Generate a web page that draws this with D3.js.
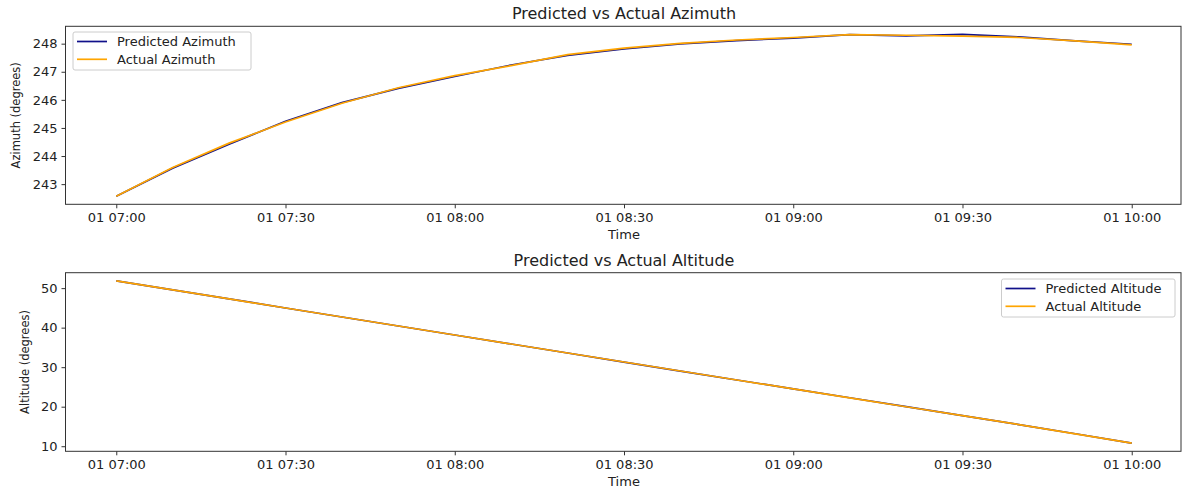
<!DOCTYPE html>
<html><head><meta charset="utf-8">
<script src="https://cdn.jsdelivr.net/npm/d3@7"></script>
<style>body{margin:0;background:#fff}svg{display:block}text{font-family:"DejaVu Sans",sans-serif;fill:#222}</style>
</head><body><svg id="c" width="1182" height="488"></svg>
<script>
const times = ["07:00","07:10","07:20","07:30","07:40","07:50","08:00","08:10","08:20","08:30","08:40","08:50","09:00","09:10","09:20","09:30","09:40","09:50","10:00"];
const predictedAzimuth = [242.57,243.57,244.42,245.24,245.90,246.41,246.83,247.24,247.58,247.81,247.99,248.11,248.20,248.32,248.28,248.33,248.24,248.10,247.98];
const actualAzimuth    = [242.57,243.59,244.46,245.21,245.88,246.43,246.86,247.22,247.61,247.84,248.01,248.13,248.22,248.32,248.30,248.27,248.22,248.10,247.96];
const predictedAltitude = [51.85,49.55,47.27,44.98,42.70,40.42,38.15,35.87,33.58,31.30,29.02,26.76,24.52,22.26,20.00,17.74,15.48,13.15,10.78];
const actualAltitude    = [51.85,49.56,47.26,44.97,42.69,40.41,38.14,35.86,33.58,31.31,29.03,26.76,24.51,22.25,19.99,17.73,15.47,13.14,10.77];
const azTicks = [243,244,245,246,247,248];
const altTicks = [10,20,30,40,50];
const xTickLabels = ["07:00","07:30","08:00","08:30","09:00","09:30","10:00"];

const parse = t => { const [h,m]=t.split(":").map(Number); return new Date(2024,0,1,h,m); };
const dates = times.map(parse);
const svg = d3.select("#c");
const PRED = "#10108a", ACT = "#ffa500";
const t0 = dates[0], t1 = dates[dates.length-1];
const span = t1 - t0;
const x = d3.scaleTime().domain([new Date(+t0 - span*0.05), new Date(+t1 + span*0.05)]).range([65.5, 1182.5]);

function panel(cfg){
  const {top,bottom,pred,act,ticks,title,ylabel,ylabelX,legend,names} = cfg;
  const all = pred.concat(act);
  const lo = d3.min(all), hi = d3.max(all), m = (hi-lo)*0.05;
  const y = d3.scaleLinear().domain([lo-m, hi+m]).range([bottom, top]);
  const g = svg.append("g");
  const line = arr => d3.line().x((d,i)=>x(dates[i])).y(d=>y(d))(arr);
  g.append("path").attr("d", line(pred)).attr("fill","none").attr("stroke",PRED).attr("stroke-width",1.7);
  g.append("path").attr("d", line(act)).attr("fill","none").attr("stroke",ACT).attr("stroke-width",1.7);
  g.append("rect").attr("x",65.5).attr("y",top).attr("width",1181-65.5).attr("height",bottom-top)
    .attr("fill","none").attr("stroke","#333").attr("stroke-width",1);
  const xa = g.append("g").attr("transform",`translate(0,${bottom})`)
    .call(d3.axisBottom(x).tickValues(xTickLabels.map(parse)).tickSize(4).tickPadding(4).tickFormat(d=>"01 "+d3.timeFormat("%H:%M")(d)));
  xa.select(".domain").remove();
  xa.selectAll("line").attr("stroke","#333");
  xa.selectAll("text").attr("font-size",13).style("font-family","DejaVu Sans");
  const ya = g.append("g").attr("transform","translate(65.5,0)")
    .call(d3.axisLeft(y).tickValues(ticks).tickSize(4).tickPadding(4).tickFormat(d3.format("d")));
  ya.select(".domain").remove();
  ya.selectAll("line").attr("stroke","#333");
  ya.selectAll("text").attr("font-size",13).style("font-family","DejaVu Sans");
  g.append("text").attr("x",624).attr("y",top-7).attr("text-anchor","middle").attr("font-size",16).text(title);
  g.append("text").attr("x",624).attr("y",bottom+35).attr("text-anchor","middle").attr("font-size",13).text("Time");
  g.append("text").attr("transform",`translate(${ylabelX},${(top+bottom)/2}) rotate(-90)`).attr("text-anchor","middle").attr("font-size",11.5).text(ylabel);
  const L = g.append("g").attr("transform",`translate(${legend[0]},${legend[1]})`);
  L.append("rect").attr("width",legend[2]).attr("height",38).attr("rx",2).attr("fill","#fff").attr("fill-opacity",0.8).attr("stroke","#ccc");
  [[PRED,names[0]],[ACT,names[1]]].forEach(([c,n],i)=>{
    L.append("line").attr("x1",4).attr("x2",34).attr("y1",9.5+i*17.8).attr("y2",9.5+i*17.8).attr("stroke",c).attr("stroke-width",1.7);
    L.append("text").attr("x",44).attr("y",14+i*17.8).attr("font-size",13).text(n);
  });
}
panel({top:26.3,bottom:204.3,pred:predictedAzimuth,act:actualAzimuth,ticks:azTicks,title:"Predicted vs Actual Azimuth",ylabel:"Azimuth (degrees)",ylabelX:20,legend:[73,32,178],names:["Predicted Azimuth","Actual Azimuth"]});
panel({top:272.7,bottom:451.3,pred:predictedAltitude,act:actualAltitude,ticks:altTicks,title:"Predicted vs Actual Altitude",ylabel:"Altitude (degrees)",ylabelX:29,legend:[1001.5,279,173.5],names:["Predicted Altitude","Actual Altitude"]});
</script></body></html>
